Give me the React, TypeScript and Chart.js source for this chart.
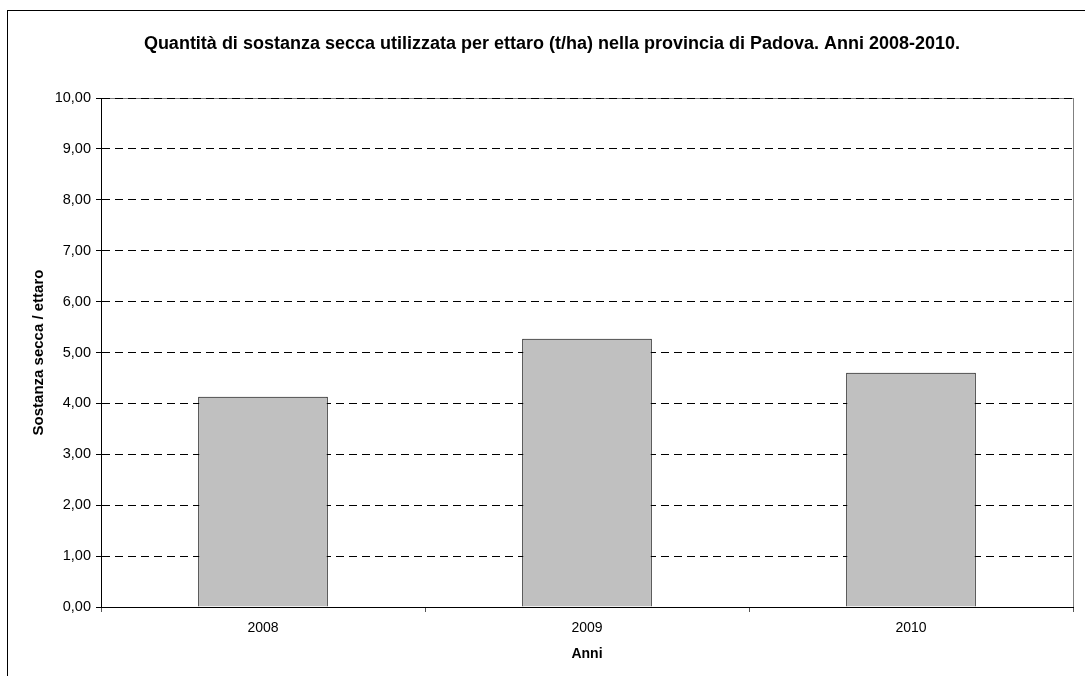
import React, { useEffect, useRef } from "react";
import { Chart, registerables } from "chart.js";

Chart.register(...registerables);

const categories: string[] = ["2008", "2009", "2010"];
const values: number[] = [4.13, 5.27, 4.6];
const titleText = "Quantità di sostanza secca utilizzata per ettaro (t/ha) nella provincia di Padova. Anni 2008-2010.";
const yAxisTitle = "Sostanza secca / ettaro";
const xAxisTitle = "Anni";
const yMin = 0;
const yMax = 10;
const yStep = 1;

const FONT = "'Liberation Sans', Arial, sans-serif";

const plotBorder = {
  id: "plotBorder",
  beforeDraw(chart: any) {
    const { ctx, chartArea } = chart;
    ctx.save();
    ctx.strokeStyle = "#808080";
    ctx.lineWidth = 1;
    ctx.strokeRect(
      Math.round(chartArea.left) + 0.5,
      Math.round(chartArea.top) + 0.5,
      Math.round(chartArea.right - chartArea.left),
      Math.round(chartArea.bottom - chartArea.top)
    );
    ctx.restore();
  },
};

export default function App() {
  const ref = useRef<HTMLCanvasElement | null>(null);

  useEffect(() => {
    if (!ref.current) return;
    const chart = new Chart(ref.current, {
      type: "bar",
      data: {
        labels: categories,
        datasets: [
          {
            data: values,
            backgroundColor: "#c0c0c0",
            borderColor: "#000000",
            borderWidth: 1,
            categoryPercentage: 1,
            barPercentage: 0.4,
          },
        ],
      },
      plugins: [plotBorder],
      options: {
        animation: false,
        responsive: false,
        maintainAspectRatio: false,
        layout: { padding: { left: 31, right: 12, top: 0, bottom: 0 } },
        plugins: {
          legend: { display: false },
          tooltip: { enabled: false },
          title: {
            display: true,
            text: titleText,
            color: "#000",
            font: { family: FONT, size: 18, weight: "bold", lineHeight: 1.2 },
            padding: { top: 33, bottom: 43.4 },
          },
        },
        scales: {
          x: {
            afterFit: (scale: any) => {
              scale.height = 69;
            },
            grid: {
              display: true,
              drawOnChartArea: false,
              drawTicks: true,
              tickLength: 5,
              color: "#555",
              offset: true,
            },
            border: { display: true, color: "#000", width: 1 },
            ticks: {
              color: "#000",
              font: { family: FONT, size: 14 },
              padding: 8,
            },
            title: {
              display: true,
              text: xAxisTitle,
              color: "#000",
              font: { family: FONT, size: 14, weight: "bold", lineHeight: 1.2 },
              padding: { top: 0, bottom: 13 },
            },
          },
          y: {
            min: yMin,
            max: yMax,
            afterFit: (scale: any) => {
              scale.width = 70;
            },
            grid: {
              color: "#000",
              lineWidth: 1,
              tickLength: 5,
              drawTicks: true,
            },
            border: { display: true, color: "#000", width: 1, dash: [8, 5] },
            ticks: {
              stepSize: yStep,
              color: "#000",
              font: { family: FONT, size: 14.5 },
              padding: 5,
              callback: (v: any) => Number(v).toFixed(2).replace(".", ","),
            },
            title: {
              display: true,
              text: yAxisTitle,
              color: "#000",
              font: { family: FONT, size: 15, weight: "bold", lineHeight: 1 },
              padding: { top: 0, bottom: 0 },
            },
          },
        },
      },
    });
    return () => chart.destroy();
  }, []);

  return (
    <div
      style={{
        position: "fixed",
        left: 0,
        top: 0,
        width: 1085,
        height: 676,
        overflow: "hidden",
        background: "#fff",
      }}
    >
      <div
        style={{
          position: "absolute",
          left: 7,
          top: 10,
          width: 1200,
          height: 800,
          border: "1px solid #000",
          boxSizing: "border-box",
        }}
      />
      <canvas
        ref={ref}
        width={1085}
        height={676}
        style={{ position: "absolute", left: 0, top: 0, width: 1085, height: 676 }}
      />
    </div>
  );
}
